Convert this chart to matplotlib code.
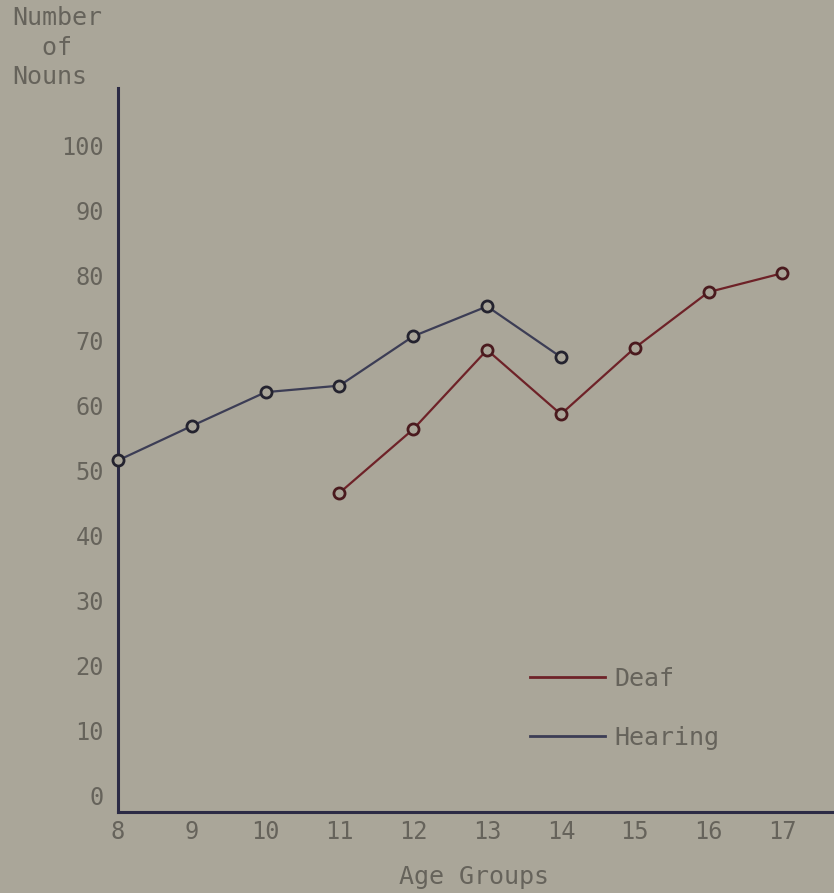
import matplotlib.pyplot as plt
from matplotlib.lines import Line2D

ages = [8, 9, 10, 11, 12, 13, 14, 15, 16, 17]
y_ticks = [0, 10, 20, 30, 40, 50, 60, 70, 80, 90, 100]

hearing_ages = [8, 9, 10, 11, 12, 13, 14]
hearing_nouns = [51.5, 56.8, 62.0, 63.0, 70.6, 75.2, 67.4]

deaf_ages = [11, 12, 13, 14, 15, 16, 17]
deaf_nouns = [46.5, 56.3, 68.5, 58.6, 68.8, 77.4, 80.3]

paper = '#aaa699'
ink = '#66635b'
deaf_col = '#6e2228'
hear_col = '#3c3d55'
axis_col = '#2c2b45'
mono = 'DejaVu Sans Mono'

fig = plt.figure(figsize=(8.34, 8.93), dpi=100, facecolor=paper)
ax = fig.add_axes([118 / 834, 81 / 893, 716 / 834, 724 / 893])
ax.set_facecolor(paper)

ax.plot(hearing_ages, hearing_nouns, color=hear_col, lw=1.6, marker='o',
        ms=8, mfc=paper, mec='#24232f', mew=2, clip_on=False, zorder=3)
ax.plot(deaf_ages, deaf_nouns, color=deaf_col, lw=1.6, marker='o',
        ms=8, mfc=paper, mec='#4a1a1e', mew=2, clip_on=False, zorder=3)

ax.set_xlim(8, 17.7)
ax.set_ylim(-2.6, 108.8)

for s in ['top', 'right']:
    ax.spines[s].set_visible(False)
for s in ['left', 'bottom']:
    ax.spines[s].set_color(axis_col)
    ax.spines[s].set_linewidth(2.2)

ax.set_xticks(ages)
ax.set_xticklabels([str(a) for a in ages], family=mono, fontsize=17, color=ink)
ax.set_yticks(y_ticks)
ax.set_yticklabels([str(v) for v in y_ticks], family=mono, fontsize=17, color=ink)
ax.tick_params(axis='both', length=0)
ax.tick_params(axis='y', pad=10)
ax.tick_params(axis='x', pad=6)

fig.text(474 / 834, 1 - 877 / 893, 'Age Groups', family=mono, fontsize=18,
         color=ink, ha='center', va='center')
fig.text(12 / 834, 1 - 6 / 893, 'Number\n  of\nNouns', family=mono, fontsize=18,
         color=ink, ha='left', va='top', linespacing=1.3)

handles = [Line2D([], [], color=deaf_col, lw=2),
           Line2D([], [], color=hear_col, lw=2)]
ax.legend(handles, ['Deaf', 'Hearing'], loc='upper left',
          bbox_to_anchor=(507 / 834, 1 - 644 / 893), bbox_transform=fig.transFigure,
          frameon=False, handlelength=3.0, handletextpad=0.4, labelspacing=1.4,
          prop={'family': mono, 'size': 18}, labelcolor=ink)

fig.savefig('out.png', dpi=100, facecolor=paper)
